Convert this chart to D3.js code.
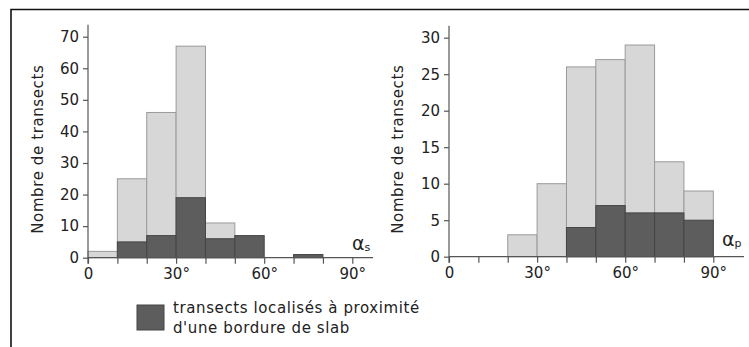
<!DOCTYPE html>
<html>
<head>
<meta charset="utf-8">
<script src="https://cdn.jsdelivr.net/npm/d3@7"></script>
<style>
  body { margin: 0; background: #fff; }
  svg { display: block; }
  text { font-family: "DejaVu Sans", sans-serif; fill: #222; }
</style>
</head>
<body>
<svg id="chart" width="749" height="347"></svg>
<script>
// bins of 10 degrees, 0-90
const binStarts = [0, 10, 20, 30, 40, 50, 60, 70, 80];
const xTickLabels = ['0', '30°', '60°', '90°'];

// alpha_s panel
const alphaSTotal = [2, 25, 46, 67, 11, 7, 0, 1, 0];
const alphaSSlab = [0, 5, 7, 19, 6, 7, 0, 1, 0];
const alphaSYTicks = [0, 10, 20, 30, 40, 50, 60, 70];

// alpha_p panel
const alphaPTotal = [0, 0, 3, 10, 26, 27, 29, 13, 9];
const alphaPSlab = [0, 0, 0, 0, 4, 7, 6, 6, 5];
const alphaPYTicks = [0, 5, 10, 15, 20, 25, 30];

const legendLines = ['transects localisés à proximité', "d'une bordure de slab"];

const COLORS = {
    lightFill: '#d7d7d7',
    lightStroke: '#9a9a9a',
    darkFill: '#5d5d5d',
    darkStroke: '#454545',
    axis: '#555',
};

const svg = d3.select('#chart');

// frame (top + left edge)
svg.append('path')
    .attr('d', 'M11,347V9.5H749')
    .attr('fill', 'none')
    .attr('stroke', '#111')
    .attr('stroke-width', 1.6);

function drawPanel(opts) {
    const x = d3.scaleLinear().domain([0, 90]).range(opts.xRange);
    const y = d3.scaleLinear().domain([0, opts.yMax]).range(opts.yRange);
    const g = svg.append('g');

    const bins = binStarts.map((b, i) => ({ x0: b, x1: b + 10, total: opts.total[i], slab: opts.slab[i] }));

    g.append('g')
        .selectAll('rect')
        .data(bins.filter((d) => d.total > d.slab))
        .join('rect')
        .attr('x', (d) => x(d.x0))
        .attr('y', (d) => y(d.total))
        .attr('width', (d) => x(d.x1) - x(d.x0))
        .attr('height', (d) => y(0) - y(d.total))
        .attr('fill', COLORS.lightFill)
        .attr('stroke', COLORS.lightStroke)
        .attr('stroke-width', 1);

    g.append('g')
        .selectAll('rect')
        .data(bins.filter((d) => d.slab > 0))
        .join('rect')
        .attr('x', (d) => x(d.x0))
        .attr('y', (d) => y(d.slab))
        .attr('width', (d) => x(d.x1) - x(d.x0))
        .attr('height', (d) => y(0) - y(d.slab))
        .attr('fill', COLORS.darkFill)
        .attr('stroke', COLORS.darkStroke)
        .attr('stroke-width', 1);

    // x axis
    const xAxis = g.append('g')
        .attr('transform', `translate(0,${y(0)})`)
        .call(d3.axisBottom(x)
            .tickValues([0, 10, 20, 30, 40, 50, 60, 70, 80, 90])
            .tickSize(6)
            .tickFormat((d) => (d % 30 === 0 ? xTickLabels[d / 30] : '')));
    xAxis.select('.domain')
        .attr('d', `M${opts.xRange[0]},0H${opts.axisEnd}`);
    xAxis.selectAll('line, .domain').attr('stroke', COLORS.axis).attr('stroke-width', 1.2);
    xAxis.selectAll('text')
        .attr('y', 11)
        .attr('font-size', 15)
        .attr('font-family', '"DejaVu Sans", sans-serif')
        .attr('fill', '#222');

    // y axis
    const yAxis = g.append('g')
        .attr('transform', `translate(${x(0)},0)`)
        .call(d3.axisLeft(y)
            .tickValues(opts.yTicks)
            .tickSize(5)
            .tickPadding(4)
            .tickFormat(d3.format('d')));
    yAxis.select('.domain')
        .attr('d', `M0,${y(0) + 6}V${opts.yRange[1] - 12}`);
    yAxis.selectAll('line, .domain').attr('stroke', COLORS.axis).attr('stroke-width', 1.2);
    yAxis.selectAll('text')
        .attr('font-size', 15)
        .attr('font-family', '"DejaVu Sans", sans-serif')
        .attr('fill', '#222');

    // y title
    g.append('text')
        .attr('transform', `translate(${opts.titleX},${(opts.yRange[0] + opts.yRange[1]) / 2 + 2}) rotate(-90)`)
        .attr('text-anchor', 'middle')
        .attr('font-size', 15)
        .attr('letter-spacing', 0.6)
        .text('Nombre de transects');

    // alpha label
    const lab = g.append('text')
        .attr('x', opts.alphaPos[0])
        .attr('y', opts.alphaPos[1])
        .attr('font-size', 19)
        .attr('font-family', '"DejaVu Serif", serif');
    lab.append('tspan').text('α');
    lab.append('tspan').attr('font-size', 11).attr('dy', 1).text(opts.sub);
}

drawPanel({
    xRange: [88, 352.3], yRange: [257.7, 36.7], yMax: 70,
    total: alphaSTotal, slab: alphaSSlab, yTicks: alphaSYTicks,
    axisEnd: 373, titleX: 43, alphaPos: [352, 250], sub: 's',
});

drawPanel({
    xRange: [449, 713.3], yRange: [256.7, 37.7], yMax: 30,
    total: alphaPTotal, slab: alphaPSlab, yTicks: alphaPYTicks,
    axisEnd: 744, titleX: 403, alphaPos: [722, 246], sub: 'p',
});

// legend
const legend = svg.append('g');
legend.append('rect')
    .attr('x', 137).attr('y', 305)
    .attr('width', 27).attr('height', 25)
    .attr('fill', COLORS.darkFill)
    .attr('stroke', COLORS.darkStroke);
legend.selectAll('text.leg')
    .data(legendLines)
    .join('text')
    .attr('class', 'leg')
    .attr('x', 173)
    .attr('y', (d, i) => 313 + i * 20)
    .attr('font-size', 15)
    .attr('letter-spacing', 0.6)
    .text((d) => d);
</script>
</body>
</html>
